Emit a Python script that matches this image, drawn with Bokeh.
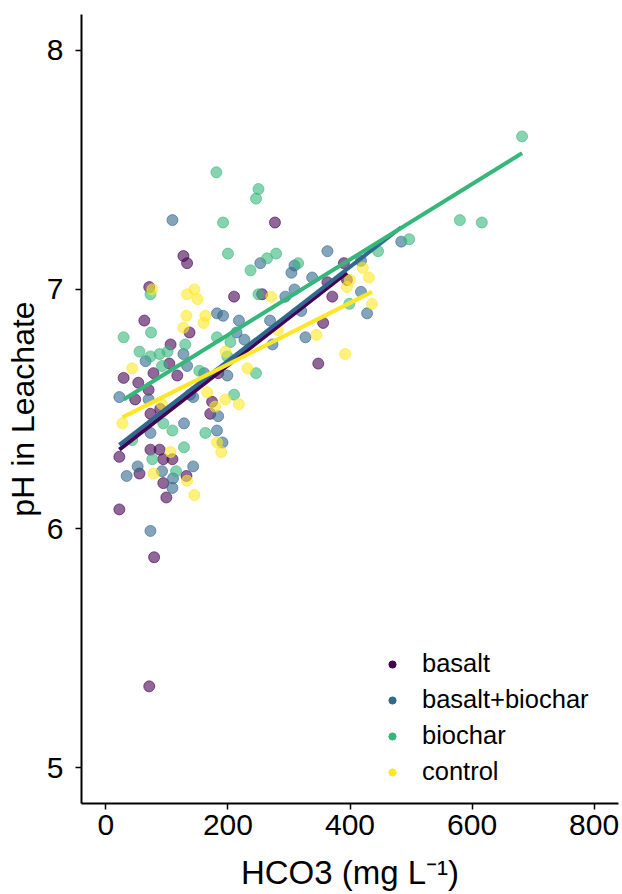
from bokeh.plotting import figure
from bokeh.models import Range1d, FixedTicker, Legend, LegendItem, ColumnDataSource
from bokeh.embed import file_html
from bokeh.resources import INLINE

groups = ["basalt", "basalt+biochar", "biochar", "control"]
colors = ["#440154", "#31688E", "#35B779", "#FDE725"]

basalt_x = [277, 127, 133, 71, 210, 256, 63, 137, 106, 104, 78, 117, 29, 184, 53, 70, 48,
            174, 171, 73, 89, 22, 73, 88, 94, 109, 55, 132, 94, 99, 22, 79, 71,
            390, 363, 395, 371, 356, 348]
basalt_y = [7.28, 7.14, 7.11, 7.01, 6.97, 6.98, 6.87, 6.82, 6.77, 6.69, 6.65, 6.64, 6.63, 6.65,
            6.61, 6.58, 6.54, 6.53, 6.48, 6.48, 6.50, 6.30, 6.33, 6.33, 6.29, 6.29, 6.23, 6.22,
            6.19, 6.13, 6.08, 5.88, 5.34, 7.11, 7.03, 7.04, 6.97, 6.86, 6.69]

bb_x = [109, 253, 182, 192, 218, 227, 127, 65, 133, 161, 199, 22, 70, 138, 143, 184, 128,
        73, 182, 191, 143, 34, 52, 92, 110, 109, 73, 484, 363, 309, 304, 338, 418, 294,
        309, 418, 428, 320, 269, 327, 273, 214]
bb_y = [7.29, 7.11, 6.90, 6.89, 6.87, 6.79, 6.73, 6.70, 6.68, 6.65, 6.64, 6.55, 6.54, 6.56,
        6.55, 6.47, 6.44, 6.40, 6.41, 6.36, 6.26, 6.22, 6.26, 6.24, 6.21, 6.17, 5.99, 7.20,
        7.16, 7.10, 7.07, 7.05, 7.12, 6.97, 7.00, 6.99, 6.90, 6.91, 6.87, 6.80, 6.77, 6.82]

biochar_x = [181, 250, 246, 192, 200, 237, 279, 264, 315, 73, 250, 29, 74, 182, 204, 130,
             55, 73, 88, 101, 199, 92, 153, 246, 210, 94, 109, 163, 43, 128, 76, 115,
             682, 580, 616, 497, 446, 399]
biochar_y = [7.49, 7.42, 7.38, 7.28, 7.15, 7.08, 7.15, 7.13, 7.11, 6.98, 6.98, 6.80, 6.82,
             6.80, 6.78, 6.77, 6.74, 6.72, 6.73, 6.74, 6.72, 6.68, 6.66, 6.65, 6.56, 6.44,
             6.41, 6.40, 6.37, 6.34, 6.29, 6.24, 7.64, 7.29, 7.28, 7.21, 7.16, 6.94]

control_x = [76, 133, 145, 150, 271, 132, 163, 160, 127, 196, 43, 232, 166, 196, 218, 179,
             27, 92, 182, 189, 106, 78, 133, 145, 421, 431, 400, 395, 436, 282, 345, 392]
control_y = [7.00, 6.98, 7.00, 6.96, 6.97, 6.89, 6.89, 6.86, 6.84, 6.74, 6.67, 6.67, 6.57,
             6.54, 6.52, 6.51, 6.44, 6.52, 6.36, 6.32, 6.32, 6.23, 6.20, 6.14, 7.09, 7.05,
             7.04, 7.01, 6.94, 6.83, 6.81, 6.73]

# fitted lines (lm per group), endpoints
fit_x0 = [22, 22, 29, 27]
fit_x1 = [395, 484, 682, 436]
fit_y0 = [6.33, 6.35, 6.54, 6.465]
fit_y1 = [7.07, 7.26, 7.57, 6.99]

x_ticks = [0, 200, 400, 600, 800]
y_ticks = [5, 6, 7, 8]

FONT = "Liberation Sans"

p = figure(width=622, height=894, x_range=Range1d(-40, 840), y_range=Range1d(4.85, 8.15),
           output_backend="svg", toolbar_location=None,
           min_border_left=81, min_border_right=4, min_border_top=14, min_border_bottom=91)

p.grid.visible = False
p.outline_line_color = None
p.background_fill_color = "white"
p.border_fill_color = "white"

series = [(basalt_x, basalt_y), (bb_x, bb_y), (biochar_x, biochar_y), (control_x, control_y)]
for (xs, ys), c in zip(series, colors):
    src = ColumnDataSource(dict(x=xs, y=ys))
    p.scatter("x", "y", source=src, size=11, fill_color=c, line_color=c,
              fill_alpha=0.6, line_alpha=0.6, line_width=1)

for i, c in enumerate(colors):
    p.line([fit_x0[i], fit_x1[i]], [fit_y0[i], fit_y1[i]], line_color=c, line_width=4)

items = []
for g, c in zip(groups, colors):
    r = p.scatter("x", "y", source=ColumnDataSource(dict(x=[float("nan")], y=[float("nan")])),
                  fill_color=c, line_color=c, size=7)
    items.append(LegendItem(label=g, renderers=[r]))

legend = Legend(items=items, location=(302, 17), orientation="vertical",
                background_fill_alpha=0, border_line_color=None,
                padding=0, margin=0, spacing=7, glyph_width=18, glyph_height=18,
                label_height=29, label_standoff=21,
                label_text_font=FONT, label_text_font_size="25.5px", label_text_color="black")
p.add_layout(legend)

for ax in (p.xaxis[0], p.yaxis[0]):
    ax.axis_line_color = "black"
    ax.axis_line_width = 2
    ax.major_tick_line_color = "black"
    ax.major_tick_line_width = 1.5
    ax.major_tick_in = 0
    ax.major_tick_out = 6
    ax.minor_tick_in = 0
    ax.minor_tick_out = 0
    ax.major_label_text_font = FONT
    ax.major_label_text_font_size = "30px"
    ax.major_label_text_color = "black"
    ax.axis_label_text_font = FONT
    ax.axis_label_text_font_style = "normal"
    ax.axis_label_text_color = "black"

p.xaxis.axis_label_text_font_size = "33px"
p.yaxis.axis_label_text_font_size = "32px"
p.xaxis.ticker = FixedTicker(ticks=x_ticks)
p.yaxis.ticker = FixedTicker(ticks=y_ticks)
p.xaxis.axis_label = "HCO3 (mg L⁻¹)"
p.yaxis.axis_label = "pH in Leachate"
p.xaxis.major_label_standoff = 5
p.xaxis.axis_label_standoff = 16
p.yaxis.major_label_standoff = 12
p.yaxis.axis_label_standoff = 3

open("out.html", "w").write(file_html(p, INLINE))
